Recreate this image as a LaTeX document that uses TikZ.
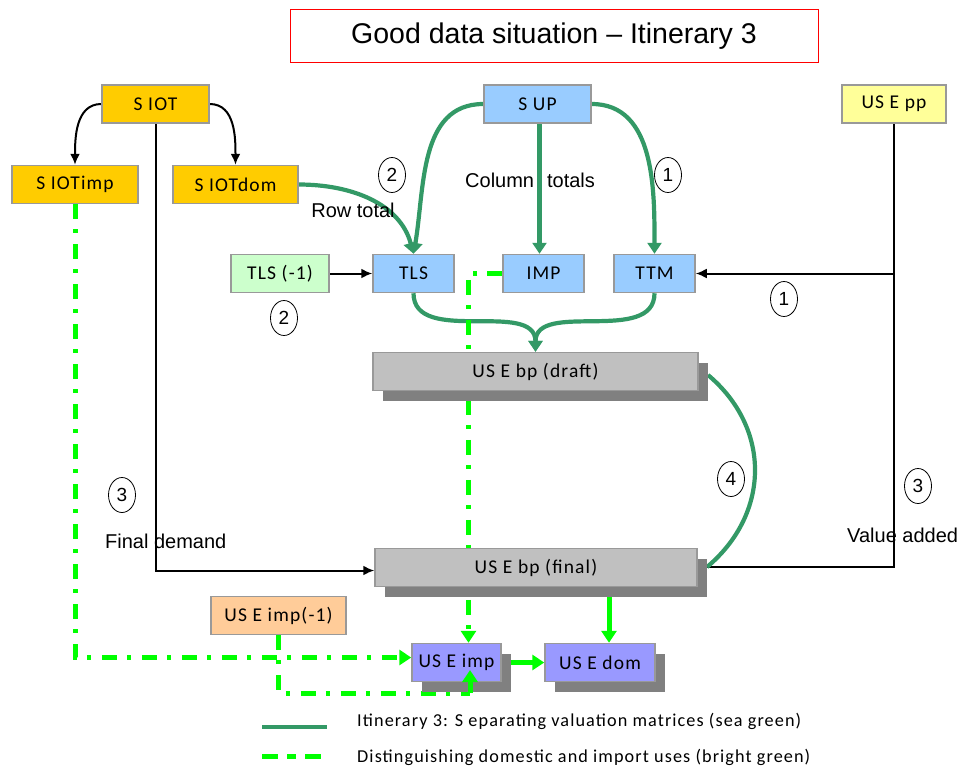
\documentclass[tikz,border=0pt]{standalone}
\usepackage{fontspec}
\setmainfont{Liberation Sans}
\newfontfamily\boxfont[LetterSpace=6]{Carlito}
\usetikzlibrary{arrows.meta,shapes.geometric,shadows}
\pgfdeclarelayer{bg}
\pgfsetlayers{bg,main}

\definecolor{gold}{HTML}{FFCC00}
\definecolor{ltblue}{HTML}{99CCFF}
\definecolor{paleyel}{HTML}{FFFF99}
\definecolor{palegrn}{HTML}{CCFFCC}
\definecolor{ltgray}{HTML}{C0C0C0}
\definecolor{shgray}{HTML}{808080}
\definecolor{peach}{HTML}{FFCC99}
\definecolor{periw}{HTML}{9999FF}
\definecolor{edgegray}{HTML}{999999}
\definecolor{seagrn}{HTML}{339966}
\definecolor{brightgrn}{HTML}{00FF00}

\tikzset{
  box/.style={draw=edgegray, line width=1.5pt, inner sep=0pt, minimum height=38pt,
    font=\boxfont\fontsize{19.5}{22}\selectfont},
  shadowed/.style={drop shadow={shadow xshift=10pt, shadow yshift=-10pt,
    fill=shgray, opacity=1}},
  numlabel/.style={draw, ellipse, line width=0.8pt, inner sep=0pt,
    minimum width=27pt, minimum height=35pt, font=\fontsize{19}{22}\selectfont},
  note/.style={font=\fontsize{20}{24}\selectfont, inner sep=0pt},
  blk/.style={black, line width=2pt},
  blkarr/.style={-{Latex[length=11pt,width=10pt]}},
  sg/.style={seagrn, line width=4.2pt},
  sgarr/.style={-{Triangle[length=11pt,width=14pt]}},
  bgd/.style={brightgrn, line width=5pt, dash pattern=on 15pt off 10pt on 4pt off 11pt},
  bgs/.style={brightgrn, line width=5pt},
  bgarr/.style={-{Triangle[length=12pt,width=15pt]}},
  legendtext/.style={font=\boxfont\fontsize{18.2}{21}\selectfont, anchor=west, inner sep=0pt}
}

\begin{document}
\begin{tikzpicture}[x=1pt, y=1pt]
\useasboundingbox (0,0) rectangle (963,-769);

% title
\node[draw=red, line width=1pt, minimum width=528pt, minimum height=53pt,
  font=\fontsize{28.5}{32}\selectfont] (title) at (554,-36) {\raisebox{-2pt}{Good data situation – Itinerary 3}};

% matrices
\node[box, fill=gold, minimum width=107pt] (siot) at (155.5,-104) {S IOT};
\node[box, fill=gold, minimum width=126pt] (siotimp) at (75,-184.5) {S IOTimp};
\node[box, fill=gold, minimum width=125pt] (siotdom) at (235.5,-184.5) {S IOTdom};
\node[box, fill=ltblue, minimum width=107pt] (sup) at (537.5,-104) {S UP};
\node[box, fill=paleyel, minimum width=104pt] (usepp) at (894,-104) {US E pp};
\node[box, fill=palegrn, minimum width=98pt] (tlsm) at (280,-273.5) {TLS (-1)};
\node[box, fill=ltblue, minimum width=81pt] (tls) at (413.5,-273.5) {TLS};
\node[box, fill=ltblue, minimum width=81pt] (imp) at (543.5,-273.5) {IMP};
\node[box, fill=ltblue, minimum width=81pt] (ttm) at (654.5,-273.5) {TTM};
\node[box, shadowed, fill=ltgray, minimum width=325pt] (draft) at (535.5,-371.5) {US E bp (draft)};
\node[box, shadowed, fill=ltgray, minimum width=322pt] (final) at (536,-567.5) {US E bp (final)};
\node[box, fill=peach, minimum width=135pt] (useimpm) at (278.5,-615.5) {US E imp(-1)};
\node[box, shadowed, fill=periw, minimum width=89pt] (useimp) at (456.5,-662.5) {US E imp};
\node[box, shadowed, fill=periw, minimum width=110pt] (usedom) at (600,-662.5) {US E dom};

% labels
\node[note] (rowtot) at (353,-210) {Row total};
\node[note, anchor=west] (coltot) at (465,-180) {Column\hspace{13pt}totals};
\node[note, anchor=west] (findem) at (105,-541) {Final demand};
\node[note, anchor=west] (valadd) at (847,-535) {Value added};

\node[numlabel] (c2a) at (392,-175) {2};
\node[numlabel] (c2b) at (284,-318) {2};
\node[numlabel] (c1a) at (668,-175) {1};
\node[numlabel] (c1b) at (784,-299) {1};
\node[numlabel] (c3a) at (122,-495) {3};
\node[numlabel] (c4) at (731,-479) {4};
\node[numlabel] (c3b) at (918,-486) {3};

% free ends of the connectors
\coordinate (draftout) at (708,-375);
\coordinate (finalout) at (707,-567);
\coordinate (finalbot) at (609,-597);
\coordinate (impfoot) at (470,-693);
\coordinate (imptip) at (470,-670);

\begin{pgfonlayer}{bg}
% black connectors
\draw[blk, blkarr] (siot.west) to[out=180,in=90] (siotimp.north);
\draw[blk, blkarr] (siot.east) to[out=0,in=90] (siotdom.north);
\draw[blk, blkarr] (siot.south) |- ([yshift=-3pt]final.west);
\draw[blk, blkarr] (tlsm.east) -- (tls.west);
\draw[blk] (usepp.south) |- (finalout);
\draw[blk, blkarr] (usepp.south |- ttm.east) -- (ttm.east);

% sea green connectors
\draw[sg, sgarr] (siotdom.east) to[out=0,in=105] (tls.north);
\draw[sg, sgarr] (sup.west) to[out=180,in=80] (tls.north);
\draw[sg, sgarr] ([xshift=2pt]sup.south) -- ([xshift=2pt]sup.south |- imp.north);
\draw[sg, sgarr] (sup.east) to[out=0,in=90] (ttm.north);
\draw[sg, sgarr] (tls.south) to[out=-90,in=90] (draft.north);
\draw[sg, sgarr] (ttm.south) to[out=-90,in=90] (draft.north);
\draw[sg] (draftout) to[out=-40,in=40,looseness=1.1] (finalout);

% bright green connectors
\draw[bgd, bgarr] (siotimp.south) |- ([yshift=5pt]useimp.west);
\draw[bgd, bgarr] (imp.west) -| ([xshift=12pt]useimp.north);
\draw[bgd] (useimpm.south) |- (impfoot);
\draw[bgs, bgarr] (useimp.east) -- (usedom.west);
\draw[bgs, bgarr] (finalbot) -- (finalbot |- usedom.north);
\end{pgfonlayer}

% the import arrow ends over the box it points into
\draw[bgs, bgarr] (impfoot) -- (imptip);

% legend
\coordinate (lga) at (262,-727);
\coordinate (lgb) at (327,-727);
\coordinate (lgc) at (262,-756);
\coordinate (lgd) at (327,-756);
\draw[sg, line width=3.5pt] (lga) -- (lgb);
\draw[bgs, dash pattern=on 16pt off 9pt on 9pt off 9pt] (lgc) -- (lgd);
\node[legendtext] (lt1) at (357,-721) {Itinerary 3: S eparating valuation matrices (sea green)};
\node[legendtext] (lt2) at (357,-757) {Distinguishing domestic and import uses (bright green)};
\end{tikzpicture}
\end{document}
